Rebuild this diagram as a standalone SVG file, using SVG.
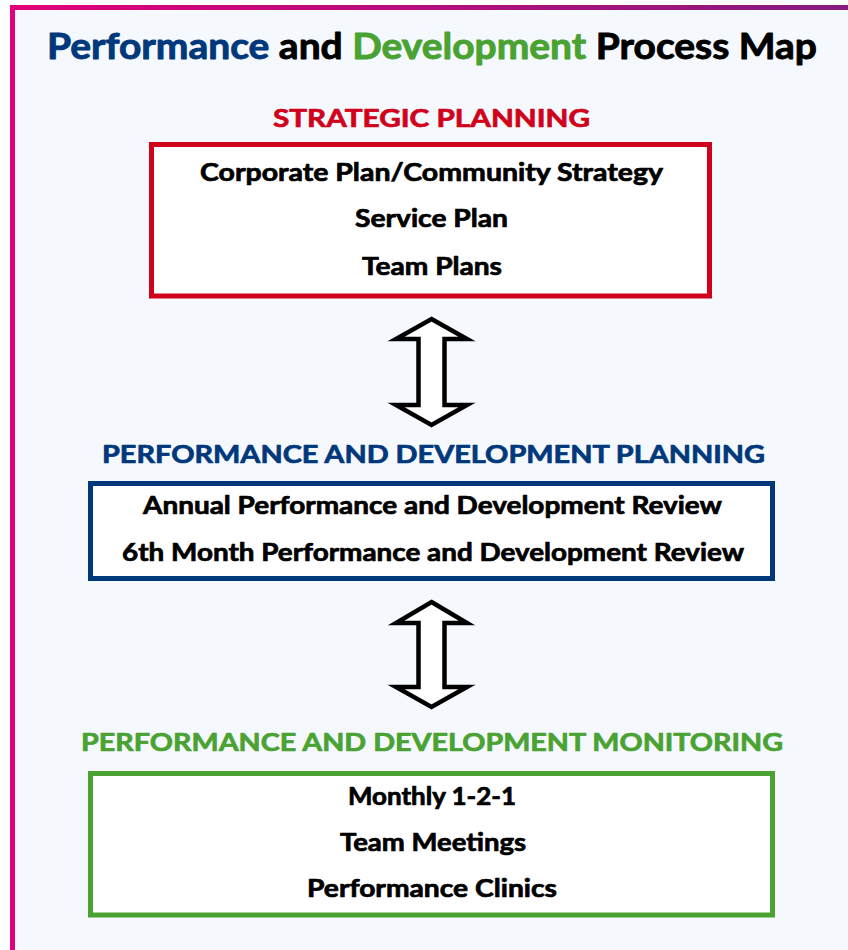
<svg xmlns="http://www.w3.org/2000/svg" width="848" height="950" viewBox="0 0 848 950">
  <defs>
    <linearGradient id="topBar" x1="0" y1="0" x2="1" y2="0">
      <stop offset="0" stop-color="#e2007a"/>
      <stop offset="1" stop-color="#861b7f"/>
    </linearGradient>
    <style>
      text { font-family: Lato, "Open Sans", "Liberation Sans", sans-serif; font-weight: 700; stroke-width: 0.7px; stroke-linejoin: round; }
      .title { font-size: 36px; stroke-width: 0.9px; }
      .head { font-size: 24px; }
      .item { font-size: 24px; fill: #000000; stroke: #000000; }
      .navy { fill: #00387b; stroke: #00387b; }
      .green { fill: #4aa232; stroke: #4aa232; }
      .red { fill: #d0021b; stroke: #d0021b; }
      .ink { fill: #000000; stroke: #000000; }
      .box { fill: #ffffff; stroke-width: 5; }
      .dbl { fill: #ffffff; stroke: #000000; stroke-width: 4.5; stroke-linejoin: miter; }
    </style>
  </defs>

  <!-- page -->
  <rect x="0" y="0" width="848" height="950" fill="#ffffff"/>
  <rect x="10" y="5" width="838" height="945" fill="#f5f9fe"/>
  <rect x="10" y="5" width="838" height="5" fill="url(#topBar)"/>
  <rect x="10" y="5" width="5" height="945" fill="#e2007a"/>

  <!-- heading -->
  <text class="title" x="47" y="59" textLength="770" lengthAdjust="spacingAndGlyphs"><tspan class="navy">Performance</tspan><tspan class="ink"> and </tspan><tspan class="green">Development</tspan><tspan class="ink"> Process Map</tspan></text>

  <!-- stage 1 -->
  <g id="strategic-planning">
    <text class="head red" x="273" y="127" textLength="317" lengthAdjust="spacingAndGlyphs">STRATEGIC PLANNING</text>
    <rect class="box" x="151.5" y="144.5" width="558" height="151.5" stroke="#d0021b"/>
    <text class="item" x="200" y="181" textLength="463" lengthAdjust="spacingAndGlyphs">Corporate Plan/Community Strategy</text>
    <text class="item" x="355" y="227" textLength="153" lengthAdjust="spacingAndGlyphs">Service Plan</text>
    <text class="item" x="362" y="275" textLength="140" lengthAdjust="spacingAndGlyphs">Team Plans</text>
  </g>

  <!-- stage 2 -->
  <g id="pd-planning">
    <text class="head navy" x="102" y="463" textLength="663" lengthAdjust="spacingAndGlyphs">PERFORMANCE AND DEVELOPMENT PLANNING</text>
    <rect class="box" x="90.5" y="483.5" width="682" height="95" stroke="#00387b"/>
    <text class="item" x="143" y="514" textLength="579" lengthAdjust="spacingAndGlyphs">Annual Performance and Development Review</text>
    <text class="item" x="122" y="561" textLength="622" lengthAdjust="spacingAndGlyphs">6th Month Performance and Development Review</text>
  </g>

  <!-- stage 3 -->
  <g id="pd-monitoring">
    <text class="head green" x="81" y="751" textLength="702" lengthAdjust="spacingAndGlyphs">PERFORMANCE AND DEVELOPMENT MONITORING</text>
    <rect class="box" x="90.5" y="773.5" width="682" height="141.5" stroke="#4aa232"/>
    <text class="item" x="348" y="805" textLength="168" lengthAdjust="spacingAndGlyphs">Monthly 1-2-1</text>
    <text class="item" x="340" y="851" textLength="186" lengthAdjust="spacingAndGlyphs">Team Meetings</text>
    <text class="item" x="307" y="897" textLength="250" lengthAdjust="spacingAndGlyphs">Performance Clinics</text>
  </g>

  <!-- two-way links between stages -->
  <g id="connectors">
    <polygon class="dbl" points="431.5,319 467,339 444.5,339 444.5,405 467,405 431.5,425 396,405 418.5,405 418.5,339 396,339"/>
    <polygon class="dbl" points="431.5,602 467,623 444.5,623 444.5,687 467,687 431.5,707 396,687 418.5,687 418.5,623 396,623"/>
  </g>
</svg>
